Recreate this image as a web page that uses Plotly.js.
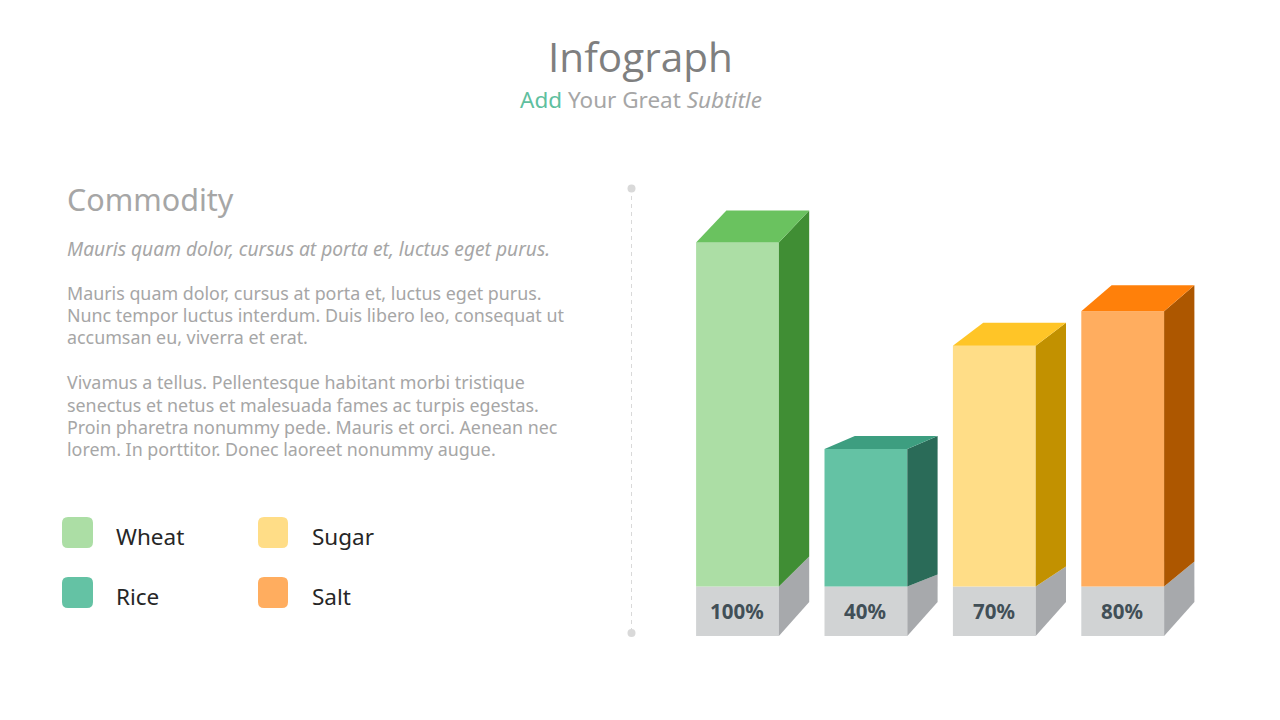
<!DOCTYPE html>
<html>
<head>
<meta charset="utf-8">
<script src="https://cdn.plot.ly/plotly-3.0.0.min.js"></script>
<style>html,body{margin:0;padding:0;background:#fff;overflow:hidden}#chart{width:1280px;height:720px}</style>
</head>
<body>
<div id="chart"></div>
<script>
// ---- data ----
const categories = ['Wheat', 'Rice', 'Sugar', 'Salt'];
const values = [100, 40, 70, 80];
const valueLabels = ['100%', '40%', '70%', '80%'];

// ---- text ----
const titleText = 'Infograph';
const subtitleText = '<span style="color:#5FBF9F">Add</span> Your Great <i>Subtitle</i>';
const headingText = 'Commodity';
const leadText = 'Mauris quam dolor, cursus at porta et, luctus eget purus.';
const bodyLines = [
  ['Mauris quam dolor, cursus at porta et, luctus eget purus.', 293],
  ['Nunc tempor luctus interdum. Duis libero leo, consequat ut', 315],
  ['accumsan eu, viverra et erat.', 337],
  ['Vivamus a tellus. Pellentesque habitant morbi tristique', 382],
  ['senectus et netus et malesuada fames ac turpis egestas.', 405],
  ['Proin pharetra nonummy pede. Mauris et orci. Aenean nec', 427],
  ['lorem. In porttitor. Donec laoreet nonummy augue.', 449]
];

// ---- style ----
const frontColors = ['#ACDEA5', '#64C2A4', '#FFDD87', '#FFAD5F'];
const topColors = ['#6AC25F', '#3D9E80', '#FFC527', '#FF800A'];
const sideColors = ['#408E34', '#2A6B58', '#C29100', '#AD5700'];
const plinthFront = '#D1D3D4';
const plinthSide = '#A7A9AC';

// ---- scales (axis units -> page pixels) ----
const W = 1280, H = 720;
const pxPerPercent = 3.44, baselinePx = 586.5;
const pxPerSlot = 128.4, firstCentrePx = 737.5;
const barPx = 82.8, depthPx = 30.3;
const topRisePx = [32, 13, 23, 26];
const plinthRisePx = [30, 12, 20, 25];
const plinthHeightPx = 49.5, plinthBottomRisePx = 34;
const barWidth = barPx / pxPerSlot, depth = depthPx / pxPerSlot;
const up = px => px / pxPerPercent;

const traces = [];
function poly(xs, ys, color) {
  traces.push({type: 'scatter', mode: 'lines', x: xs.concat(xs[0]), y: ys.concat(ys[0]), fill: 'toself',
    fillcolor: color, line: {width: 0, color: color}, hoverinfo: 'skip', showlegend: false});
}
categories.forEach((c, i) => {
  const l = i - barWidth / 2, r = i + barWidth / 2, v = values[i];
  const rise = up(topRisePx[i]), base = up(plinthRisePx[i]);
  const pb = -up(plinthHeightPx), pbr = pb + up(plinthBottomRisePx);
  poly([r, r + depth, r + depth, r], [pb, pbr, base, 0], plinthSide);
  poly([r, r + depth, r + depth, r], [0, base, v + rise, v], sideColors[i]);
  poly([l, l + depth, r + depth, r], [v, v + rise, v + rise, v], topColors[i]);
});
traces.push({type: 'bar', x: categories.map((c, i) => i), y: categories.map(() => up(plinthHeightPx)),
  base: -up(plinthHeightPx), width: barWidth, marker: {color: plinthFront, line: {width: 0}},
  hoverinfo: 'skip', showlegend: false});
traces.push({type: 'bar', x: categories.map((c, i) => i), y: values, base: 0, width: barWidth,
  marker: {color: frontColors, line: {width: 0}}, hovertext: categories, hoverinfo: 'text+y', showlegend: false});

// ---- annotations and decoration in page pixels ----
const px = x => x / W, py = y => 1 - y / H;
const note = (text, x, y, size, color, family, anchor, extra) => Object.assign({
  text, xref: 'paper', yref: 'paper', x: px(x), y: py(y), xanchor: anchor || 'left', yanchor: 'middle',
  showarrow: false, borderpad: 0, font: {size, color, family: family || 'Noto Sans'}
}, extra || {});

const annotations = [
  note(titleText, 640, 56.5, 40.5, '#7F7F7F', 'Open Sans', 'center'),
  note(subtitleText, 640.5, 100, 22.5, '#A6A6A6', 'Noto Sans', 'center'),
  note('81', 1220.5, 49, 17, '#FFFFFF', 'Liberation Sans', 'center'),
  note(headingText, 66, 199, 30.5, '#A6A6A6', 'Noto Sans'),
  note('<i>' + leadText + '</i>', 66, 248, 19.2, '#A6A6A6')
];
bodyLines.forEach(b => annotations.push(note(b[0], 66, b[1], 17.85, '#A6A6A6')));

const legendPos = [[62, 517, 115, 536], [62, 577, 115, 596], [258, 517, 311, 536], [258, 577, 311, 596]];
const shapes = [];
const rounded = (x, y, w, h, r) =>
  `M${x + r},${y}H${x + w - r}Q${x + w},${y} ${x + w},${y + r}V${y + h - r}Q${x + w},${y + h} ${x + w - r},${y + h}H${x + r}Q${x},${y + h} ${x},${y + h - r}V${y + r}Q${x},${y} ${x + r},${y}Z`;

categories.forEach((c, i) => {
  const p = legendPos[i];
  shapes.push({type: 'path', xref: 'x2', yref: 'y2', path: rounded(p[0], p[1], i < 2 ? 31 : 30, 31, 6), fillcolor: frontColors[i], line: {width: 0}});
  annotations.push(note(c, p[2], p[3], 22.5, '#262626'));
});
const leaf = (cx, cy, r) => `M${cx},${cy - r}L${cx + r},${cy - r}L${cx + r},${cy}A${r},${r} 0 0 1 ${cx},${cy + r}A${r},${r} 0 0 1 ${cx - r},${cy}A${r},${r} 0 0 1 ${cx},${cy - r}Z`;
shapes.push({type: 'path', xref: 'x2', yref: 'y2', path: leaf(1222.5, 51.5, 27.5), fillcolor: '#6AC25F', line: {width: 0}});
shapes.push({type: 'path', xref: 'x2', yref: 'y2', path: leaf(1220.5, 50, 26), fillcolor: '#ACDEA5', line: {width: 0}});
shapes.push({type: 'line', xref: 'x2', yref: 'y2', x0: 631.5, x1: 631.5, y0: 188, y1: 633, line: {color: '#D9D9D9', width: 1, dash: '4px,4px'}});
[188.5, 633].forEach(y => shapes.push({type: 'circle', xref: 'x2', yref: 'y2', x0: 627.5, x1: 635.5, y0: y - 4, y1: y + 4, fillcolor: '#D9D9D9', line: {width: 0}}));

values.forEach((v, i) => annotations.push({
  text: '<b>' + valueLabels[i] + '</b>', xref: 'x', yref: 'y', x: i, y: -up(24), xshift: -0.7, showarrow: false,
  xanchor: 'center', yanchor: 'middle', borderpad: 0, font: {size: 20.5, color: '#414F57', family: 'Noto Sans'}
}));

const hidden = {visible: false, fixedrange: true};
const layout = {
  width: W, height: H, margin: {l: 0, r: 0, t: 0, b: 0}, autosize: false,
  paper_bgcolor: '#FFFFFF', plot_bgcolor: 'rgba(0,0,0,0)', barmode: 'overlay', showlegend: false,
  xaxis: Object.assign({range: [-firstCentrePx / pxPerSlot, (W - firstCentrePx) / pxPerSlot]}, hidden),
  yaxis: Object.assign({range: [(baselinePx - H) / pxPerPercent, baselinePx / pxPerPercent]}, hidden),
  xaxis2: Object.assign({range: [0, W], overlaying: 'x'}, hidden),
  yaxis2: Object.assign({range: [H, 0], overlaying: 'y'}, hidden),
  annotations, shapes
};
// keep the page-pixel axes alive for the decoration shapes
traces.push({type: 'scatter', mode: 'markers', x: [0], y: [0], xaxis: 'x2', yaxis: 'y2', marker: {opacity: 0}, hoverinfo: 'skip', showlegend: false});
Plotly.newPlot('chart', traces, layout, {displayModeBar: false});
</script>
</body>
</html>
